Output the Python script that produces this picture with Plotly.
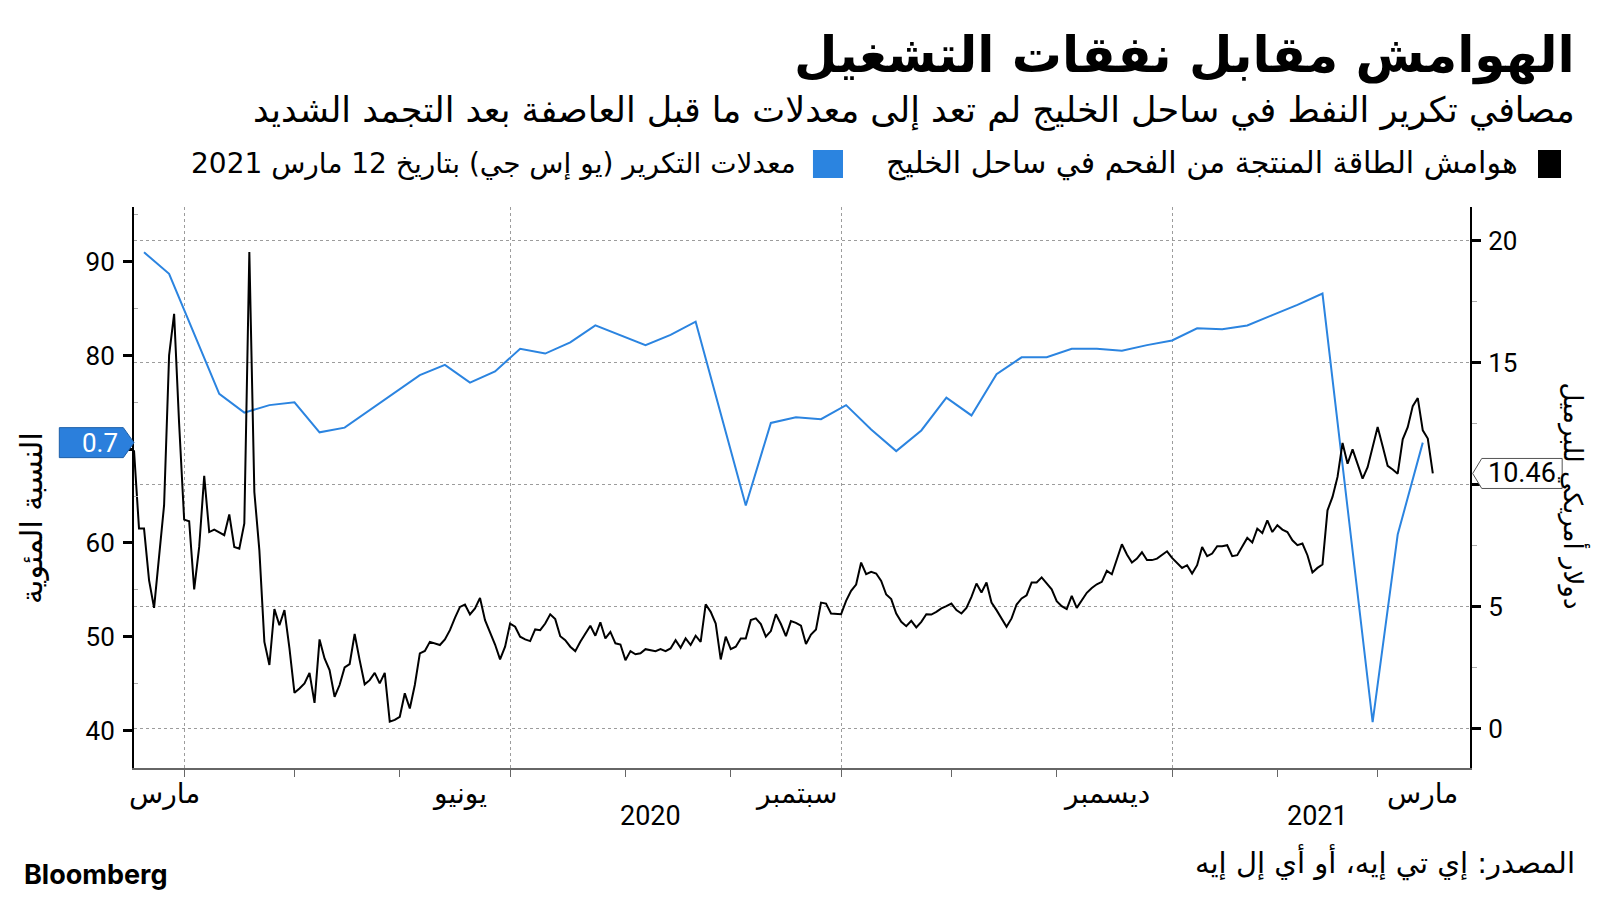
import plotly.graph_objects as go
import pandas as pd

# ---------------- data ----------------
# Gulf Coast refinery utilisation, % (left axis), weekly
blue_dates = [
    "2020-03-20", "2020-03-27", "2020-04-10", "2020-04-17", "2020-04-24", "2020-05-01",
    "2020-05-08", "2020-05-15", "2020-06-05", "2020-06-12", "2020-06-19", "2020-06-26",
    "2020-07-03", "2020-07-10", "2020-07-17", "2020-07-24", "2020-08-07", "2020-08-14",
    "2020-08-21", "2020-09-04", "2020-09-11", "2020-09-18", "2020-09-25", "2020-10-02",
    "2020-10-09", "2020-10-16", "2020-10-23", "2020-10-30", "2020-11-06", "2020-11-13",
    "2020-11-20", "2020-11-27", "2020-12-04", "2020-12-11", "2020-12-18", "2020-12-25",
    "2021-01-01", "2021-01-08", "2021-01-15", "2021-01-22", "2021-01-29", "2021-02-05",
    "2021-02-12", "2021-02-26", "2021-03-05", "2021-03-12",
]
blue_vals = [
    91.0, 88.7, 75.9, 73.9, 74.7, 75.0,
    71.8, 72.3, 77.9, 79.0, 77.1, 78.3,
    80.7, 80.2, 81.4, 83.2, 81.1, 82.2,
    83.6, 64.0, 72.8, 73.4, 73.2, 74.7,
    72.1, 69.8, 72.0, 75.5, 73.6, 78.0,
    79.8, 79.8, 80.7, 80.7, 80.5, 81.1,
    81.6, 82.9, 82.8, 83.2, 84.3, 85.4,
    86.6, 40.9, 60.9, 70.7,
]

# Gulf Coast coking margins, USD/bbl (right axis), business days from black_start
black_start = "2020-03-18"
black_vals = [
    11.41, 8.20, 8.20, 6.09, 4.95, 6.91, 9.16, 15.30, 17.00, 12.50,
    8.57, 8.50, 5.71, 7.45, 10.36, 8.06, 8.16, 8.05, 7.93, 8.78,
    7.45, 7.38, 8.41, 19.53, 9.70, 7.31, 3.56, 2.61, 4.90, 4.24,
    4.86, 3.29, 1.47, 1.65, 1.86, 2.29, 1.06, 3.66, 2.88, 2.40,
    1.31, 1.79, 2.51, 2.65, 3.88, 2.81, 1.82, 1.99, 2.29, 1.86,
    2.29, 0.29, 0.36, 0.49, 1.45, 0.83, 1.79, 3.09,
    3.19, 3.56, 3.50, 3.43, 3.66, 4.04, 4.54, 4.99, 5.09, 4.68,
    4.93, 5.36, 4.45, 3.95, 3.45, 2.84, 3.36, 4.31, 4.18, 3.77,
    3.66, 3.59, 4.07, 4.04, 4.31, 4.69, 4.49, 3.79, 3.63, 3.36,
    3.18, 3.56, 3.90, 4.22, 3.81, 4.36, 3.70, 3.97, 3.50, 3.45,
    2.81, 3.18, 3.05, 3.09, 3.26, 3.22, 3.18, 3.26, 3.18, 3.29,
    3.63, 3.32, 3.70, 3.43, 3.81, 3.56, 5.10, 4.79, 4.31, 2.84,
    3.77, 3.26, 3.36, 3.70, 3.70, 4.45, 4.52, 4.29, 3.77, 4.00,
    4.69, 4.29, 3.79, 4.41, 4.34, 4.22, 3.47, 3.86, 4.07, 5.17,
    5.13, 4.72, 4.72, 4.69,
    5.24, 5.65, 5.91, 6.81, 6.33, 6.43, 6.36, 6.06, 5.50, 5.31,
    4.72, 4.38, 4.20, 4.42, 4.15, 4.38, 4.69, 4.68, 4.79, 4.93,
    5.02, 5.13, 4.86, 4.72, 4.95, 5.40, 5.95, 5.58, 5.99, 5.17,
    4.86, 4.52, 4.18, 4.52, 5.09, 5.34, 5.47, 5.99, 5.99, 6.20,
    5.95,
    5.71, 5.23, 5.02, 4.90, 5.44, 4.95, 5.27, 5.57, 5.77, 5.92,
    6.02, 6.47, 6.33, 6.93, 7.56, 7.14, 6.81, 6.97, 7.23, 6.91,
    6.91, 6.97, 7.11, 7.27, 7.00, 6.79, 6.59, 6.70, 6.36, 6.70,
    7.45, 7.07, 7.18, 7.48, 7.48, 7.52, 7.07, 7.11, 7.49, 7.82,
    7.63, 8.20, 8.02, 8.54, 8.06, 8.34, 8.16, 8.06, 7.72, 7.52,
    7.59, 7.11, 6.40, 6.59, 6.73, 8.95, 9.50, 10.32, 11.71, 10.86,
    11.45, 10.86, 10.25, 10.72, 11.50, 12.36, 11.58, 10.77, 10.62, 10.45,
    11.86, 12.36, 13.22, 13.55, 12.23, 11.89, 10.46,
]
black_dates = pd.bdate_range(black_start, periods=len(black_vals))

# axis ticks / labels
x_range = ["2020-03-18", "2021-03-25 10:00"]
quarter_ticks = ["2020-04-01", "2020-07-01", "2020-10-01", "2021-01-01"]
month_ticks = ["2020-04-01", "2020-05-01", "2020-06-01", "2020-07-01", "2020-08-03",
               "2020-09-01", "2020-10-01", "2020-11-02", "2020-12-01", "2021-01-01",
               "2021-02-01", "2021-03-01"]
month_label_pos = ["2020-03-26", "2020-06-17", "2020-09-18", "2020-12-15", "2021-03-12"]
month_label_text = ["مارس", "يونيو", "سبتمبر", "ديسمبر", "مارس"]
year_label_pos = ["2020-08-10", "2021-02-11"]
year_label_text = ["2020", "2021"]
left_ticks = [40, 50, 60, 70, 80, 90]
left_ticktext = ["40", "50", "60", "", "80", "90"]      # 70 sits under the value tag
left_minor = [45, 55, 65, 75, 85, 95]
right_ticks = [0, 5, 10, 15, 20]
right_ticktext = ["0", "5", "", "15", "20"]             # 10 sits under the value tag
right_minor = [2.5, 7.5, 12.5, 17.5]

title = "الهوامش مقابل نفقات التشغيل"
subtitle = "مصافي تكرير النفط في ساحل الخليج لم تعد إلى معدلات ما قبل العاصفة بعد التجمد الشديد"
legend_black = "هوامش الطاقة المنتجة من الفحم في ساحل الخليج"
legend_blue = "معدلات التكرير (يو إس جي) بتاريخ 12 مارس 2021"
left_title = "النسبة المئوية"
right_title = "دولار أمريكي للبرميل"
source = "المصدر: إي تي إيه، أو أي إل إيه"
blue_tag_text = "0.7"

BLUE = "#2b84e0"
AR = "DejaVu Sans"
NUM = "Roboto, DejaVu Sans"

fig = go.Figure()
fig.add_trace(go.Scatter(x=blue_dates, y=blue_vals, mode="lines",
                         line=dict(color=BLUE, width=2), yaxis="y", showlegend=False,
                         hoverinfo="skip"))
fig.add_trace(go.Scatter(x=black_dates, y=black_vals, mode="lines",
                         line=dict(color="black", width=2), yaxis="y2", showlegend=False,
                         hoverinfo="skip"))

# the page body has an 8px margin, so the figure is 1584x884 and sits at (8, 8)
fig.update_layout(
    width=1584, height=884,
    margin=dict(l=126, r=122, t=199, b=124),
    paper_bgcolor="white", plot_bgcolor="white",
    showlegend=False,
    xaxis=dict(
        type="date", range=x_range,
        rangebreaks=[dict(bounds=["sat", "mon"])],
        tickmode="array", tickvals=quarter_ticks, showticklabels=False,
        ticks="outside", ticklen=7, tickwidth=1, tickcolor="#666",
        showgrid=True, gridcolor="#9c9c9c", griddash="dot", gridwidth=1,
        showline=True, linecolor="#666", linewidth=2, zeroline=False,
        minor=dict(tickmode="array", tickvals=month_ticks, ticks="outside",
                   ticklen=7, tickwidth=1, tickcolor="#666", showgrid=False),
    ),
    yaxis=dict(
        range=[36.0, 95.83], tickmode="array", tickvals=left_ticks, ticktext=left_ticktext,
        ticks="outside", ticklen=9, tickwidth=3, tickcolor="black",
        showline=True, linecolor="black", linewidth=2,
        showgrid=False, zeroline=False,
        tickfont=dict(family=NUM, size=26, color="black"),
        ticklabelstandoff=3,
        minor=dict(tickmode="array", tickvals=left_minor, ticks="inside",
                   ticklen=4, tickwidth=1, tickcolor="#aaa", showgrid=False),
    ),
    yaxis2=dict(
        overlaying="y", side="right",
        range=[-1.61, 21.38], tickmode="array", tickvals=right_ticks, ticktext=right_ticktext,
        ticks="outside", ticklen=9, tickwidth=3, tickcolor="black",
        showline=True, linecolor="black", linewidth=2,
        showgrid=True, gridcolor="#9c9c9c", griddash="dot", gridwidth=1,
        zeroline=False,
        tickfont=dict(family=NUM, size=26, color="black"),
        ticklabelstandoff=2,
        minor=dict(tickmode="array", tickvals=right_minor, ticks="outside",
                   ticklen=5, tickwidth=1, tickcolor="#aaa", showgrid=False),
    ),
)

annotations = []
# month and year labels under the x axis
for pos, txt in zip(month_label_pos, month_label_text):
    annotations.append(dict(x=pos, y=-0.0446, xref="x", yref="paper", text=txt,
                            showarrow=False, xanchor="center", yanchor="middle",
                            font=dict(family=AR, size=28, color="black")))
for pos, txt in zip(year_label_pos, year_label_text):
    annotations.append(dict(x=pos, y=-0.0856, xref="x", yref="paper", text=txt,
                            showarrow=False, xanchor="center", yanchor="middle",
                            font=dict(family=NUM, size=27, color="black")))

# titles
annotations += [
    dict(x=1.0801, y=1.2692, xref="paper", yref="paper", text="<b>" + title + "</b>",
         showarrow=False, xanchor="right", yanchor="middle",
         font=dict(family=AR, size=50, color="black")),
    dict(x=1.0801, y=1.1729, xref="paper", yref="paper", text=subtitle,
         showarrow=False, xanchor="right", yanchor="middle",
         font=dict(family=AR, size=35, color="black")),
    dict(x=1.0374, y=1.0784, xref="paper", yref="paper", text=legend_black,
         showarrow=False, xanchor="right", yanchor="middle",
         font=dict(family=AR, size=30, color="black")),
    dict(x=0.497, y=1.0784, xref="paper", yref="paper", text=legend_blue,
         showarrow=False, xanchor="right", yanchor="middle",
         font=dict(family=AR, size=28, color="black")),
    dict(x=-0.0771, y=0.4456, xref="paper", yref="paper", text=left_title,
         showarrow=False, textangle=-90, xanchor="center", yanchor="middle",
         font=dict(family=AR, size=30, color="black")),
    dict(x=1.0775, y=0.4848, xref="paper", yref="paper", text=right_title,
         showarrow=False, textangle=90, xanchor="center", yanchor="middle",
         font=dict(family=AR, size=26, color="black")),
    dict(x=1.0801, y=-0.1676, xref="paper", yref="paper", text=source,
         showarrow=False, xanchor="right", yanchor="middle",
         font=dict(family=AR, size=29, color="black")),
    dict(x=-0.0838, y=-0.1907, xref="paper", yref="paper", text="<b>Bloomberg</b>",
         showarrow=False, xanchor="left", yanchor="middle",
         font=dict(family="Inter, Roboto", size=27, color="black")),
]

# last-value tags
blue_last = blue_vals[-1]
black_last = black_vals[-1]
hl = 1.6   # half tag height, left-axis units
hr = 0.615 # half tag height, right-axis units
shapes = [
    dict(type="path", xref="paper", yref="y", layer="above",
         path=f"M -0.0559,{blue_last + hl} L -0.0080,{blue_last + hl} L 0,{blue_last} "
              f"L -0.0080,{blue_last - hl} L -0.0559,{blue_last - hl} Z",
         fillcolor="#2b7fdc", line=dict(color="#1d5fa8", width=1)),
    dict(type="path", xref="paper", yref="y2", layer="above",
         path=f"M 1.0690,{black_last + hr} L 1.0088,{black_last + hr} L 1.0020,{black_last} "
              f"L 1.0088,{black_last - hr} L 1.0690,{black_last - hr} Z",
         fillcolor="white", line=dict(color="#555", width=1)),
    # legend swatches
    dict(type="rect", xref="paper", yref="paper", x0=1.0509, x1=1.0681, y0=1.0517, y1=1.1016,
         fillcolor="black", line=dict(width=0)),
    dict(type="rect", xref="paper", yref="paper", x0=0.5082, x1=0.5307, y0=1.0517, y1=1.1016,
         fillcolor=BLUE, line=dict(width=0)),
]
annotations += [
    dict(x=-0.0255, y=blue_last, xref="paper", yref="y", text=blue_tag_text,
         showarrow=False, xanchor="center", yanchor="middle",
         font=dict(family=NUM, size=26, color="white")),
    dict(x=1.0390, y=black_last, xref="paper", yref="y2", text=f"{black_last:.2f}",
         showarrow=False, xanchor="center", yanchor="middle",
         font=dict(family=NUM, size=27, color="black")),
]

fig.update_layout(annotations=annotations, shapes=shapes)
fig.write_html("out.html")
